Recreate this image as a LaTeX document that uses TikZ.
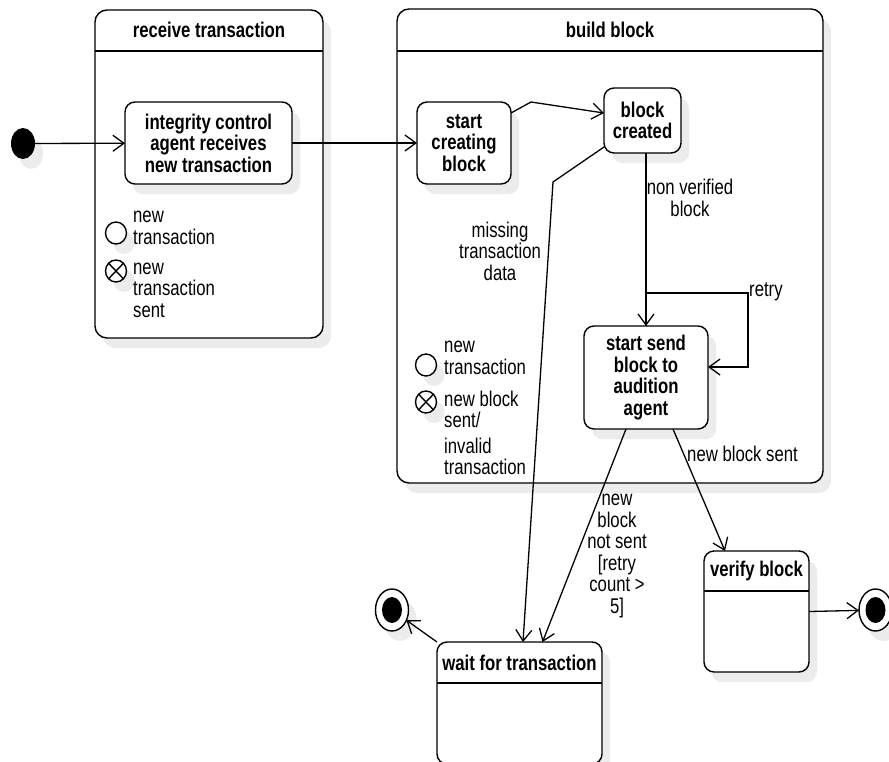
\documentclass[tikz,border=0pt]{standalone}
\usepackage{fontspec}
\setmainfont{Liberation Sans}[FakeStretch=0.785]
\usetikzlibrary{arrows.meta,shapes.geometric,shadows}
\definecolor{shadowgray}{gray}{0.925}

\tikzset{
  every node/.style={font=\fontsize{21.3}{21.5}\selectfont},
  shade/.style={drop shadow={shadow xshift=8pt,shadow yshift=-10pt,fill=shadowgray,opacity=1}},
  container/.style={draw,fill=white,line width=1.4pt,rounded corners=12pt,shade,inner sep=0pt,outer sep=0pt},
  statebox/.style={draw,fill=white,line width=1.4pt,rounded corners=10pt,shade,inner sep=0pt,outer sep=0pt,
    align=center,font=\fontsize{21.3}{21.5}\selectfont\bfseries},
  titletext/.style={inner sep=0pt,font=\fontsize{21.3}{21.5}\selectfont\bfseries},
  lbl/.style={inner sep=0pt,align=center},
  lblleft/.style={inner sep=0pt,align=left,anchor=west},
  marker/.style={ellipse,draw,fill=white,line width=1.4pt,minimum width=21pt,minimum height=22pt,inner sep=0pt,outer sep=0pt,shade},
  finalring/.style={ellipse,draw,fill=white,line width=1.4pt,minimum width=33pt,minimum height=42pt,inner sep=0pt,outer sep=0pt,shade},
  finaldot/.style={ellipse,fill=black,minimum width=20pt,minimum height=26pt,inner sep=0pt},
  initdot/.style={ellipse,fill=black,minimum width=24pt,minimum height=31pt,inner sep=0pt,outer sep=0pt,shade},
  edge/.style={line width=1.3pt,-{Straight Barb[length=11pt,width=16pt,line width=1.3pt]}},
  rule/.style={line width=1.4pt},
}

\begin{document}
\begin{tikzpicture}[x=1pt,y=-1pt]
\clip (0,0) rectangle (889,761);

% composite states
\node[container,minimum width=228pt,minimum height=328pt] (recv) at (209,174) {};
\draw[rule] ([yshift=-41pt]recv.north west) -- ([yshift=-41pt]recv.north east);
\node[titletext] (recvtitle) at (209,30) {receive transaction};

\node[container,minimum width=426pt,minimum height=474pt] (build) at (610,246) {};
\draw[rule] ([yshift=-42pt]build.north west) -- ([yshift=-42pt]build.north east);
\node[titletext] (buildtitle) at (610,30) {build block};

% pseudo states
\node[initdot] (init) at (23,143.5) {};
\node[finalring] (finalL) at (392,610) {};
\node[finaldot] (finalLdot) at (392,610) {};
\node[finalring] (finalR) at (875.5,610) {};
\node[finaldot] (finalRdot) at (875.5,610) {};

% simple states
\node[statebox,minimum width=167pt,minimum height=82pt] (integ) at (208.5,143)
  {integrity control\\agent receives\\new transaction};
\node[statebox,minimum width=94pt,minimum height=82pt] (startcreate) at (464,143)
  {start\\creating\\block};
\node[statebox,minimum width=77pt,minimum height=65pt] (created) at (642.5,120.5)
  {block\\created};
\node[statebox,minimum width=124pt,minimum height=103pt] (startsend) at (646,377.5)
  {start send\\block to\\audition\\agent};

% states with a compartment
\node[container,rounded corners=10pt,minimum width=105pt,minimum height=121pt] (verify) at (756.5,611.5) {};
\draw[rule] ([yshift=-40pt]verify.north west) -- ([yshift=-40pt]verify.north east);
\node[titletext] (verifytitle) at (756.5,571) {verify block};

\node[container,rounded corners=10pt,minimum width=165pt,minimum height=122pt] (wait) at (519.5,703) {};
\draw[rule] ([yshift=-41pt]wait.north west) -- ([yshift=-41pt]wait.north east);
\node[titletext] (waittitle) at (519.5,663) {wait for transaction};

% entry / exit point legends
\node[marker] (entry1) at (116,233) {};
\node[lblleft] (entry1txt) at (133,228) {new\\transaction};
\node[marker] (exit1) at (116,271) {};
\draw[rule] (exit1.north west) -- (exit1.south east) (exit1.north east) -- (exit1.south west);
\node[lblleft] (exit1txt) at (133,290) {new\\transaction\\sent};

\node[marker] (entry2) at (426,365) {};
\node[lblleft] (entry2txt) at (444,358) {new\\transaction};
\node[marker] (exit2) at (426,402) {};
\draw[rule] (exit2.north west) -- (exit2.south east) (exit2.north east) -- (exit2.south west);
\node[lblleft] (exit2txt) at (444,433) {new block\\sent/\\[4pt]invalid\\transaction};

% transitions
\draw[edge] (init) -- (integ);
\draw[edge] (integ) -- (startcreate);
\draw[edge] ([yshift=30pt]startcreate.east) -- (531,102) -- ([yshift=7.5pt]created.west);
\draw[edge] (created.south -| startsend.north) -- (startsend.north);
\draw[edge] (startsend.north) |- (748,293) |- ([yshift=10.5pt]startsend.east);
\draw[edge] ([yshift=-26.5pt]created.west) -- (553,182) -- ([xshift=3.5pt]wait.north);
\draw[edge] ([xshift=-20pt]startsend.south) -- ([xshift=23pt]wait.north);
\draw[edge] ([xshift=27pt]startsend.south) -- ([xshift=-31.5pt]verify.north);
\draw[edge] (wait.north west) -- (finalL);
\draw[edge] (verify.east) -- (finalR);

% transition labels
\node[lbl] (lmissing) at (500,251) {missing\\transaction\\data};
\node[lbl] (lnonver) at (690,198) {non verified\\block};
\node[lblleft] (lretry) at (749,292) {retry};
\node[lblleft] (lsent) at (687,454) {new block sent};
\node[lbl] (lnotsent) at (617,556) {new\\block\\not sent\\{[retry}\\count >\\5]};
\end{tikzpicture}
\end{document}
